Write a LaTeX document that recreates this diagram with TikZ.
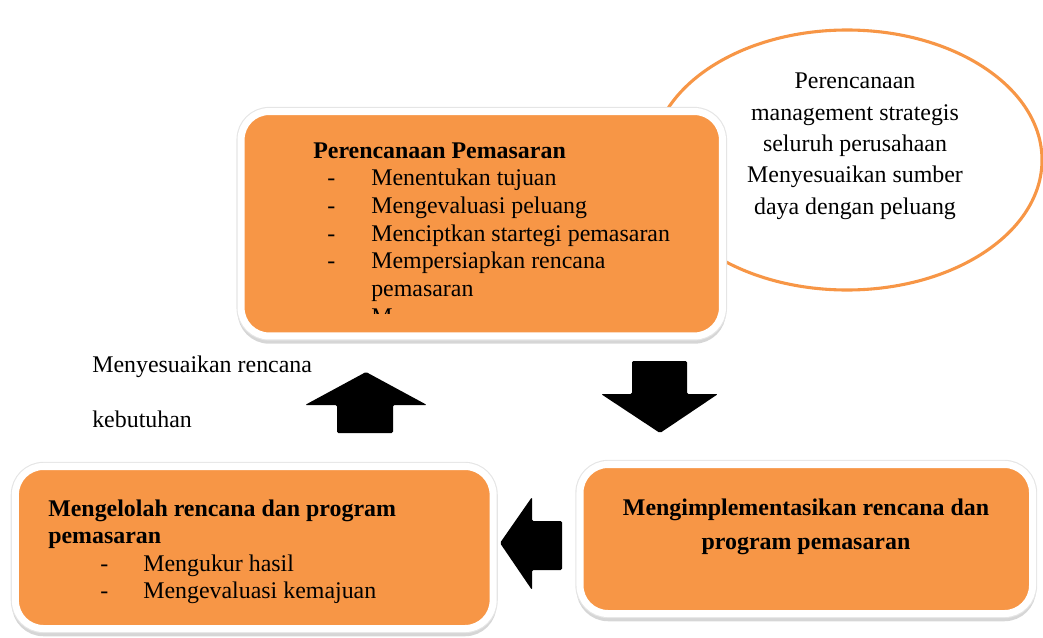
\documentclass[tikz,border=0pt]{standalone}
\usepackage{fontspec}
\setmainfont{Liberation Serif}
\usepackage{tikz}
\usetikzlibrary{shadows}
\definecolor{planorange}{HTML}{F79646}
\tikzset{
	plan/.style={rounded corners=20pt, fill=planorange, draw=white, line width=5pt,
		drop shadow={shadow xshift=0pt, shadow yshift=-3pt, fill=black!40, draw=black!40, line width=5pt, opacity=0.4},
		preaction={draw=black!10, line width=6.6pt}},
	txt/.style={font=\fontsize{17}{20}\selectfont, inner sep=0pt, anchor=base west},
	btxt/.style={txt, font=\fontsize{17}{20}\selectfont\bfseries},
	blockarrow/.style={fill=black, rounded corners=1pt}
}

\begin{document}
\begin{tikzpicture}[x=0.025cm, y=-0.025cm]
		%%%%% START %%%%%
		\useasboundingbox (0, 0) rectangle (1043, 637);
		
		\draw[line width=2.2pt, color=planorange, fill=white] (847, 160) ellipse (195 and 130);
		\node[txt, anchor=base] (ell1) at (855, 88) {Perencanaan};
		\node[txt, anchor=base] (ell2) at (855, 120) {management strategis};
		\node[txt, anchor=base] (ell3) at (855, 151) {seluruh perusahaan};
		\node[txt, anchor=base] (ell4) at (855, 182) {Menyesuaikan sumber};
		\node[txt, anchor=base] (ell5) at (855, 214) {daya dengan peluang};
		
		\node[plan, minimum width=12.03cm, minimum height=5.61cm] (top) at (481.75, 223.75) {};
		\node[btxt] (toptitle) at (313, 158) {Perencanaan Pemasaran};
		\node[txt] (dash1) at (327, 185) {-};
		\node[txt] (item1) at (371, 185) {Menentukan tujuan};
		\node[txt] (dash2) at (327, 213) {-};
		\node[txt] (item2) at (371, 213) {Mengevaluasi peluang};
		\node[txt] (dash3) at (327, 241) {-};
		\node[txt] (item3) at (371, 241) {Menciptkan startegi pemasaran};
		\node[txt] (dash4) at (327, 268) {-};
		\node[txt] (item4) at (371, 268) {Mempersiapkan rencana};
		\node[txt] (item4b) at (371, 296) {pemasaran};
		\begin{scope}
			\clip (245, 115) rectangle (718, 313);
			\node[txt] (item5) at (371, 324) {M};
		\end{scope}
		
		\node[plan, minimum width=11.31cm, minimum height=3.725cm] (impl) at (806.25, 539) {};
		\node[btxt, anchor=base] (impl1) at (806, 515) {Mengimplementasikan rencana dan};
		\node[btxt, anchor=base] (impl2) at (806, 549) {program pemasaran};
		
		\node[plan, minimum width=11.94cm, minimum height=4.05cm] (manage) at (254.25, 547.5) {};
		\node[btxt] (manage1) at (48, 516) {Mengelolah rencana dan program};
		\node[btxt] (manage2) at (48, 543) {pemasaran};
		\node[txt] (dash5) at (100, 571) {-};
		\node[txt] (item6) at (143, 571) {Mengukur hasil};
		\node[txt] (dash6) at (100, 598) {-};
		\node[txt] (item7) at (143, 598) {Mengevaluasi kemajuan};
		
		\node[txt] (adjust1) at (92, 372) {Menyesuaikan rencana};
		\node[txt] (adjust2) at (92, 427) {kebutuhan};
		
		% block arrows
		\fill[blockarrow] (632, 361) -- (687, 361) -- (687, 394) -- (718, 394) -- (660, 433) -- (601, 394) -- (632, 394) -- cycle;
		\fill[blockarrow] (562, 521) -- (562, 570) -- (532, 570) -- (532, 590) -- (500, 543) -- (532, 497) -- (532, 521) -- cycle;
		\fill[blockarrow] (337, 433) -- (337, 405) -- (305, 405) -- (366, 372) -- (427, 405) -- (393, 405) -- (393, 433) -- cycle;
		
		%%%%% END %%%%%
	\end{tikzpicture}
\end{document}
